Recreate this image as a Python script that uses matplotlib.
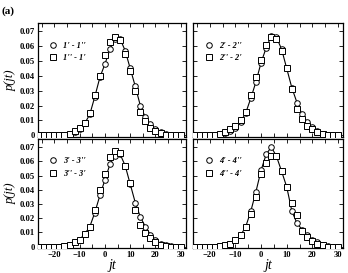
import matplotlib
matplotlib.use('Agg')
import matplotlib.pyplot as plt
from matplotlib.ticker import MultipleLocator, FuncFormatter

# jt values (shared by all panels)
jt = [-26, -24, -22, -20, -18, -16, -14, -12, -10, -8, -6, -4, -2, 0, 2,
      4, 6, 8, 10, 12, 14, 16, 18, 20, 22, 24, 26, 28, 30]

# panel 1
c1 = [0, 0, 0, 0, 0, 0.0005, 0.001, 0.002, 0.004, 0.008, 0.014, 0.026, 0.039, 0.048, 0.058,
      0.065, 0.065, 0.057, 0.045, 0.033, 0.020, 0.012, 0.0074, 0.004, 0.002, 0.001, 0, 0, 0]
s1 = [0, 0, 0, 0, 0, 0.0005, 0.001, 0.003, 0.005, 0.008, 0.015, 0.027, 0.040, 0.054, 0.063,
      0.066, 0.064, 0.055, 0.043, 0.030, 0.0155, 0.0095, 0.005, 0.003, 0.0015, 0.0005, 0, 0, 0]
# panel 2
c2 = [0, 0, 0, 0, 0, 0.001, 0.0015, 0.003, 0.005, 0.009, 0.015, 0.025, 0.036, 0.049, 0.059,
      0.067, 0.066, 0.058, 0.045, 0.032, 0.022, 0.014, 0.009, 0.0055, 0.003, 0.001, 0.0005, 0, 0]
s2 = [0, 0, 0, 0, 0, 0.001, 0.002, 0.004, 0.006, 0.010, 0.016, 0.027, 0.039, 0.051, 0.061,
      0.066, 0.065, 0.057, 0.045, 0.031, 0.018, 0.011, 0.0065, 0.004, 0.002, 0.001, 0, 0, 0]
# panel 3
c3 = [0, 0, 0, 0, 0, 0.0005, 0.0015, 0.003, 0.005, 0.009, 0.014, 0.024, 0.036, 0.047, 0.058,
      0.064, 0.065, 0.057, 0.044, 0.031, 0.021, 0.014, 0.0085, 0.005, 0.002, 0.001, 0.0005, 0, 0]
s3 = [0, 0, 0, 0, 0, 0.0005, 0.0015, 0.003, 0.005, 0.009, 0.014, 0.026, 0.040, 0.051, 0.063,
      0.0675, 0.066, 0.057, 0.045, 0.026, 0.0156, 0.0097, 0.006, 0.003, 0.0015, 0.0005, 0, 0, 0]
# panel 4
c4 = [0, 0, 0, 0, 0, 0.0005, 0.001, 0.002, 0.0045, 0.008, 0.014, 0.025, 0.0387, 0.0537, 0.065,
      0.070, 0.0635, 0.053, 0.042, 0.025, 0.0165, 0.012, 0.008, 0.005, 0.003, 0.0015, 0.0005, 0, 0]
s4 = [0, 0, 0, 0, 0, 0.0005, 0.001, 0.002, 0.0045, 0.008, 0.014, 0.023, 0.035, 0.051, 0.059,
      0.064, 0.0635, 0.053, 0.042, 0.031, 0.022, 0.011, 0.007, 0.004, 0.002, 0.001, 0, 0, 0]

labels = [("1' - 1''", "1'' - 1'"), ("2' - 2''", "2'' - 2'"),
          ("3' - 3''", "3'' - 3'"), ("4' - 4''", "4'' - 4'")]
circles = [c1, c2, c3, c4]
squares = [s1, s2, s3, s4]

plt.rcParams['font.family'] = 'Liberation Serif'
plt.rcParams['font.weight'] = 'bold'

fig = plt.figure(figsize=(3.48, 2.73), dpi=100)
# axes rectangles [left, bottom, width, height]
rects = [[0.109, 0.498, 0.425, 0.418], [0.555, 0.498, 0.431, 0.418],
         [0.109, 0.090, 0.425, 0.401], [0.555, 0.090, 0.431, 0.401]]


def yfmt(v, pos):
    if abs(v) < 1e-9:
        return '0'
    return '%.2f' % v


for i in range(4):
    ax = fig.add_axes(rects[i])
    ax.plot(jt, circles[i], '-', color='black', lw=0.8, zorder=1)
    ax.plot(jt, circles[i], 'o', mfc='white', mec='black', ms=4, mew=0.7,
            label=labels[i][0], zorder=2)
    ax.plot(jt, squares[i], 's', mfc='white', mec='black', ms=4, mew=0.7,
            label=labels[i][1], zorder=3)
    ax.set_xlim(-26.5, 32)
    ax.set_ylim(-0.0012, 0.0757)
    ax.xaxis.set_major_locator(MultipleLocator(10))
    ax.xaxis.set_minor_locator(MultipleLocator(5))
    ax.yaxis.set_major_locator(MultipleLocator(0.01))
    ax.yaxis.set_major_formatter(FuncFormatter(yfmt))
    ax.tick_params(which='both', direction='in', top=True, right=True,
                   length=3, width=0.6, labelsize=6.2, pad=2)
    for sp in ax.spines.values():
        sp.set_linewidth(0.9)
    if i < 2:
        ax.tick_params(labelbottom=False)
    else:
        ax.set_xlabel('jt', fontsize=10, style='italic', labelpad=0)
    if i % 2 == 1:
        ax.tick_params(labelleft=False)
    else:
        ax.set_ylabel('p(jt)', fontsize=9, style='italic', labelpad=2)
    ax.legend(loc='upper left', bbox_to_anchor=(0.02, 0.9), frameon=False,
              prop={'size': 6, 'style': 'italic', 'weight': 'bold'},
              handletextpad=0.6, labelspacing=0.5, handlelength=1.2)

fig.text(0.005, 0.975, '(a)', fontsize=8, fontweight='bold', va='top', ha='left')

fig.savefig('out.png', dpi=100)
